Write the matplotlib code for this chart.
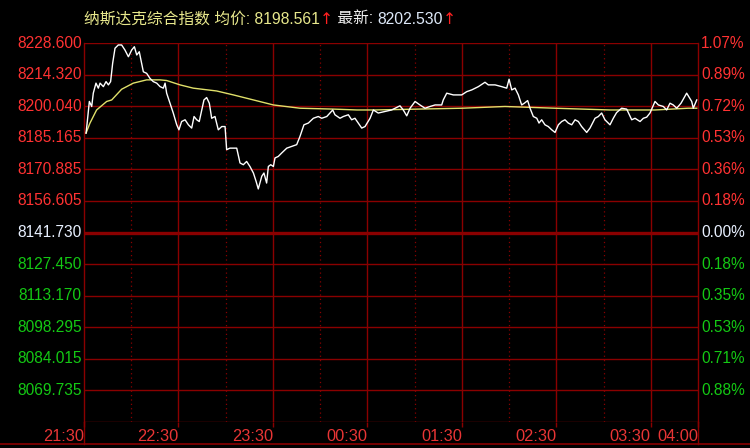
import numpy as np
import matplotlib
matplotlib.use('Agg')
import matplotlib.pyplot as plt
from matplotlib.lines import Line2D

# minutes since 21:30 and index value (white line)
price_min = [1.3, 2.1, 3.4, 4.9, 5.9, 7.6, 9.1, 10.2, 12.3, 14.0, 15.5, 16.9, 18.2, 19.7, 21.8, 23.9, 26.0, 28.2, 30.3, 32.0,
             33.5, 35.1, 36.6, 37.7, 39.8, 41.9, 44.0, 46.2, 48.3, 50.4, 51.5, 52.5, 54.6, 56.7, 58.9, 60.3, 62.0, 64.2, 66.3, 68.4,
             69.9, 71.6, 73.2, 74.8, 76.2, 77.9, 79.6, 81.1, 83.2, 85.3, 87.5, 89.6, 90.6, 92.7, 97.0, 99.1, 101.2, 103.3, 105.4, 107.6,
             109.3, 110.7, 112.9, 114.3, 116.0, 117.1, 118.6, 120.3, 121.3, 123.4, 125.6, 128.8, 131.9, 135.1, 137.2, 139.7, 142.5, 145.7, 148.8, 151.0,
             154.2, 158.0, 159.4, 162.6, 164.7, 167.9, 170.0, 172.1, 176.4, 178.5, 181.7, 183.8,
             186.9, 191.2, 195.4, 200.7, 202.8, 205.0, 207.1, 210.3, 213.4, 216.6, 219.8, 223.0, 227.2, 228.2, 230.4, 234.6, 239.9, 243.1, 246.3, 250.5,
             254.7, 256.8, 261.1, 265.3, 268.5, 270.0, 271.7, 273.8, 275.9, 278.0, 279.7, 281.8, 283.3, 285.4, 287.6, 289.0, 290.7, 292.8, 294.9, 297.1,
             299.2, 301.3, 303.4, 305.5, 307.6, 309.8, 311.9, 314.0, 316.1, 319.3, 321.4, 324.6, 326.7, 328.8, 330.9, 334.1, 336.2, 338.3, 341.5, 344.7,
             347.9, 350.0, 353.2, 355.3, 357.4, 359.5, 362.7, 364.8, 368.0, 370.1, 372.2, 374.3, 376.5, 379.2, 382.8, 386.0, 387.0, 389.2]
price = [8187.3, 8192.6, 8201.8, 8199.5, 8205.6, 8210.2, 8207.9, 8210.2, 8208.6, 8210.9, 8209.4, 8210.9, 8219.3, 8226.2, 8227.7, 8227.7, 8225.4, 8222.3, 8225.4, 8226.9,
         8223.1, 8224.6, 8219.3, 8215.4, 8214.7, 8212.4, 8210.9, 8210.2, 8208.6, 8207.9, 8210.2, 8205.6, 8201.0, 8196.5, 8191.1, 8188.8, 8192.6, 8193.4, 8191.1, 8189.6,
         8194.9, 8193.4, 8192.6, 8197.9, 8202.5, 8203.6, 8201.0, 8194.1, 8194.9, 8188.8, 8190.3, 8190.3, 8179.7, 8180.4, 8180.4, 8173.6, 8172.8, 8174.3, 8172.0, 8169.0,
         8165.2, 8161.7, 8167.5, 8169.0, 8164.4, 8172.0, 8172.8, 8172.0, 8175.9, 8176.6, 8178.2, 8180.4, 8181.2, 8182.0, 8185.8, 8191.1, 8191.9, 8194.1, 8194.9, 8194.1,
         8194.9, 8197.9, 8195.7, 8194.1, 8194.9, 8195.7, 8193.4, 8194.1, 8189.6, 8190.3, 8194.1, 8197.9,
         8196.5, 8197.2, 8197.9, 8199.8, 8197.9, 8195.2, 8198.7, 8201.8, 8200.2, 8198.7, 8199.5, 8200.2, 8200.2, 8202.5, 8205.6, 8204.8, 8204.8, 8206.3, 8207.1, 8208.6,
         8210.6, 8209.4, 8209.4, 8208.6, 8207.9, 8212.0, 8207.1, 8207.9, 8204.8, 8200.2, 8201.0, 8202.2, 8198.7, 8194.9, 8194.1, 8191.9, 8193.4, 8191.1, 8190.3, 8188.8,
         8187.6, 8191.1, 8192.6, 8193.4, 8191.9, 8191.1, 8193.4, 8192.6, 8190.3, 8187.6, 8189.6, 8194.1, 8194.9, 8196.5, 8193.4, 8191.1, 8194.1, 8196.7, 8198.7, 8198.3,
         8193.4, 8194.1, 8192.6, 8194.1, 8194.6, 8196.5, 8201.8, 8200.2, 8199.5, 8197.9, 8201.0, 8200.2, 8198.7, 8201.0, 8205.6, 8201.8, 8198.7, 8202.5]

# average price (yellow line)
avg_min = [1.3, 3.8, 8.0, 14.4, 17.6, 23.9, 31.3, 39.8, 48.3, 52.5, 61.0, 69.4, 84.3, 94.9, 107.6, 120.3, 137.2, 158.4,
           173.4, 184.8, 240.1, 267.4, 299.2, 334.1, 362.7, 383.7, 389.2]
avg_price = [8187.3, 8191.9, 8197.9, 8201.8, 8202.5, 8207.4, 8210.2, 8211.7, 8211.7, 8211.4, 8209.4, 8207.9, 8206.6, 8204.8,
             8202.5, 8200.2, 8198.7, 8198.3, 8197.9, 8197.9, 8198.7, 8199.5, 8198.7, 8197.9, 8197.9, 8198.7, 8198.7]

base = 8141.73
top = 8228.60
left_labels = ['8228.600', '8214.320', '8200.040', '8185.165', '8170.885', '8156.605', '8141.730',
               '8127.450', '8113.170', '8098.295', '8084.015', '8069.735']
right_labels = ['1.07%', '0.89%', '0.72%', '0.53%', '0.36%', '0.18%', '0.00%',
                '0.18%', '0.35%', '0.53%', '0.71%', '0.88%']
time_ticks = [0, 60, 120, 180, 240, 300, 360, 390]
time_labels = ['21:30', '22:30', '23:30', '00:30', '01:30', '02:30', '03:30', '04:00']
half_ticks = [30, 90, 150, 210, 270, 330]

grid_c = '#8a0000'
red_c = '#ff3232'
green_c = '#14c814'
white_c = '#e8f0ff'
FONT = ['Liberation Sans', 'Noto Sans CJK SC', 'DejaVu Sans']
plt.rcParams['font.family'] = FONT

fig = plt.figure(figsize=(7.5, 4.48), dpi=100, facecolor='black')
W, H = 750, 448
x0, x1, y0, y1 = 84, 698, 43, 422
ax = fig.add_axes([x0 / W, 1 - y1 / H, (x1 - x0) / W, (y1 - y0) / H], facecolor='black')

step = (top - base) / 6
ylevels = [base + k * step for k in range(6, -7, -1)]
ax.set_xlim(0, 390)
ax.set_ylim(ylevels[-1], ylevels[0])

for i, lv in enumerate(ylevels):
    ax.axhline(lv, color=grid_c, lw=2.4 if i == 6 else 1.0, zorder=1)
for t in time_ticks[1:-1]:
    ax.axvline(t, color=grid_c, lw=1.0, zorder=1)
for t in half_ticks:
    ax.axvline(t, color=grid_c, lw=0.9, ls=(0, (1, 2.5)), zorder=1)

ax.plot(avg_min, avg_price, color='#e0e06a', lw=1.0, zorder=3)
ax.plot(price_min, price, color='white', lw=1.0, zorder=4)

for s in ['top', 'bottom']:
    ax.spines[s].set_visible(False)
for s in ['left', 'right']:
    ax.spines[s].set_color(grid_c)
    ax.spines[s].set_linewidth(1.0)

ax.set_yticks([])
ax.set_xticks(time_ticks)
ax.set_xticklabels(time_labels, ha='right')
ax.tick_params(axis='x', colors=grid_c, length=3.8, width=1.0, pad=1.0, labelsize=11.8, labelcolor='#e83535')

# price labels and percent labels
for i, lv in enumerate(ylevels[:-1]):
    c = red_c if i < 6 else (white_c if i == 6 else green_c)
    ax.text(-0.004, lv, left_labels[i], transform=ax.get_yaxis_transform(), ha='right', va='center',
            color=c, fontsize=11.2)
    ax.text(1.005, lv, right_labels[i], transform=ax.get_yaxis_transform(), ha='left', va='center',
            color=c, fontsize=11.2)

# extensions of the frame below the plot
yb = 1 - 444 / H
fig.add_artist(Line2D([0, 1], [yb, yb], color=grid_c, lw=1.2, transform=fig.transFigure))
for xx in (x0, x1):
    fig.add_artist(Line2D([xx / W, xx / W], [yb, 1 - y1 / H], color=grid_c, lw=1.0, transform=fig.transFigure))

# header text pieces
pieces = [('纳斯达克综合指数 均价: 8198.561', '#e8e88c', FONT), ('↑', '#ff2020', ['DejaVu Sans']),
          (' 最新: ', '#f0f0f0', FONT), ('8202.530', '#dde8f8', FONT), ('↑', '#ff2020', ['DejaVu Sans'])]
renderer = fig.canvas.get_renderer()
xpos = 84 / W
for txt, c, fam in pieces:
    t = fig.text(xpos, 1 - 19 / H, txt, color=c, fontsize=11.3, ha='left', va='center', family=fam)
    bb = t.get_window_extent(renderer=renderer)
    xpos = bb.x1 / W

fig.savefig('out.png', dpi=100, facecolor='black')
